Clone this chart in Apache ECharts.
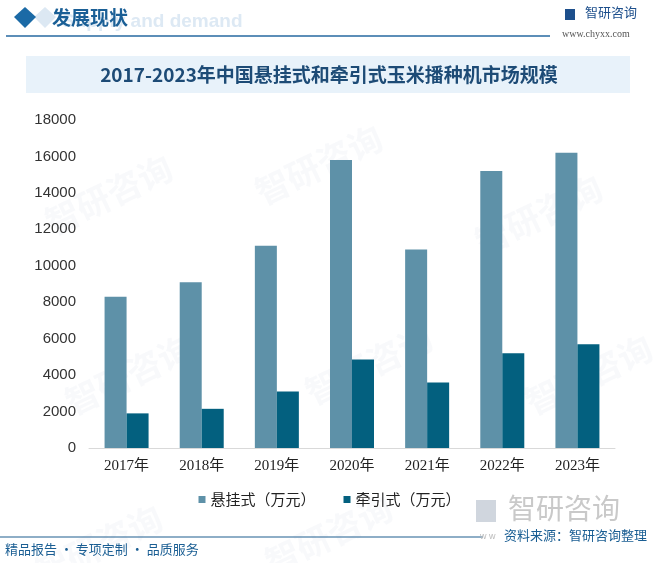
<!DOCTYPE html>
<html><head><meta charset="utf-8">
<script src="https://cdn.jsdelivr.net/npm/echarts@6/dist/echarts.min.js"></script>
<style>html,body{margin:0;padding:0;background:#fff}#c{width:659px;height:563px}</style>
</head><body><div id="c"></div>
<script>
var categories = ['2017年','2018年','2019年','2020年','2021年','2022年','2023年'];
var hangValues = [8300, 9100, 11100, 15800, 10900, 15200, 16200];
var towValues = [1900, 2150, 3100, 4850, 3600, 5200, 5700];
var seriesNames = ['悬挂式（万元）','牵引式（万元）'];
var titleText = '2017-2023年中国悬挂式和牵引式玉米播种机市场规模';

var chart = echarts.init(document.getElementById('c'), null, {renderer:'canvas'});
var wm = [];
[[40,150],[250,120],[470,170],[60,330],[300,320],[520,330],[30,500],[260,490]].forEach(function(p){
  wm.push({type:'text', left:p[0], top:p[1], rotation:Math.PI/7, z:-1,
    style:{text:'智研咨询', fill:'rgba(200,210,222,0.13)', font:'bold 34px "Noto Sans CJK SC"'}});
});
var option = {
  animation:false,
  backgroundColor:'#fff',
  graphic: wm.concat([
    {type:'text', left:62, top:12, style:{text:'Supply and demand', fill:'#dde9f4', font:'bold 19px "Liberation Sans"'}},
    {type:'polygon', shape:{points:[[34,17],[45,7],[56,17],[45,28]]}, style:{fill:'#dce8f3'}},
    {type:'polygon', shape:{points:[[14,17],[25,7],[36,17],[25,28]]}, style:{fill:'#1b6aa6'}},
    {type:'text', left:52, top:8, style:{text:'发展现状', fill:'#1a5f96', font:'bold 19px "Noto Sans CJK SC"'}},
    {type:'line', shape:{x1:6,y1:36,x2:550,y2:36}, style:{stroke:'#2668a0', lineWidth:1.5}},
    {type:'rect', shape:{x:565,y:9,width:10,height:11}, style:{fill:'#1d4f8c'}},
    {type:'text', left:585, top:6, style:{text:'智研咨询', fill:'#1d4f8c', font:'13px "Noto Sans CJK SC"'}},
    {type:'text', left:562, top:29, style:{text:'www.chyxx.com', fill:'#555', font:'10px "Liberation Serif"'}},
    {type:'rect', shape:{x:26,y:56,width:604,height:37}, style:{fill:'#e8f2fa'}},
    {type:'text', x:329, y:75, style:{text:titleText, fill:'#1d4b76', font:'bold 19px "Noto Sans CJK SC"', textAlign:'center', textVerticalAlign:'middle'}},
    {type:'rect', shape:{x:476,y:500,width:20,height:22}, style:{fill:'#d0d6de'}},
    {type:'text', left:508, top:494, style:{text:'智研咨询', fill:'#c9c9c9', font:'28px "Noto Sans CJK SC"'}},
    {type:'line', shape:{x1:0,y1:537,x2:483,y2:537}, style:{stroke:'#1f5f8f', lineWidth:1.2}},
    {type:'text', left:480, top:532, style:{text:'w w', fill:'#bbb', font:'9px "Liberation Sans"'}},
    {type:'text', right:12, top:529, style:{text:'资料来源：智研咨询整理', fill:'#1a5e93', font:'13px "Noto Sans CJK SC"'}},
    {type:'text', left:5, top:543, style:{text:'精品报告 · 专项定制 · 品质服务', fill:'#1a5e93', font:'13px "Noto Sans CJK SC"'}}
  ]),
  grid:{left:89, right:44, top:120, bottom:115, containLabel:false},
  legend:{
    data:seriesNames, top:487, left:'center', itemWidth:7, itemHeight:7, itemGap:28, icon:'rect',
    textStyle:{fontSize:15, color:'#222', fontFamily:'"Noto Sans CJK SC"'}
  },
  xAxis:{
    type:'category', data:categories,
    axisLine:{lineStyle:{color:'#d9d9d9', width:1}},
    axisTick:{show:false},
    axisLabel:{fontSize:15, color:'#222', margin:11, fontFamily:'"Liberation Serif","Noto Sans CJK SC"'}
  },
  yAxis:{
    type:'value', min:0, max:18000, interval:2000,
    axisLine:{show:false}, axisTick:{show:false}, splitLine:{show:false},
    axisLabel:{fontSize:15, color:'#333', margin:13, fontFamily:'"Liberation Sans"', formatter:function(v){return String(v);}}
  },
  series:[
    {name:seriesNames[0], type:'bar', data:hangValues, barWidth:22, barGap:'0%', itemStyle:{color:'#5e91a8'}},
    {name:seriesNames[1], type:'bar', data:towValues, barWidth:22, barGap:'0%', itemStyle:{color:'#03607f'}}
  ]
};
chart.setOption(option);
</script></body></html>
